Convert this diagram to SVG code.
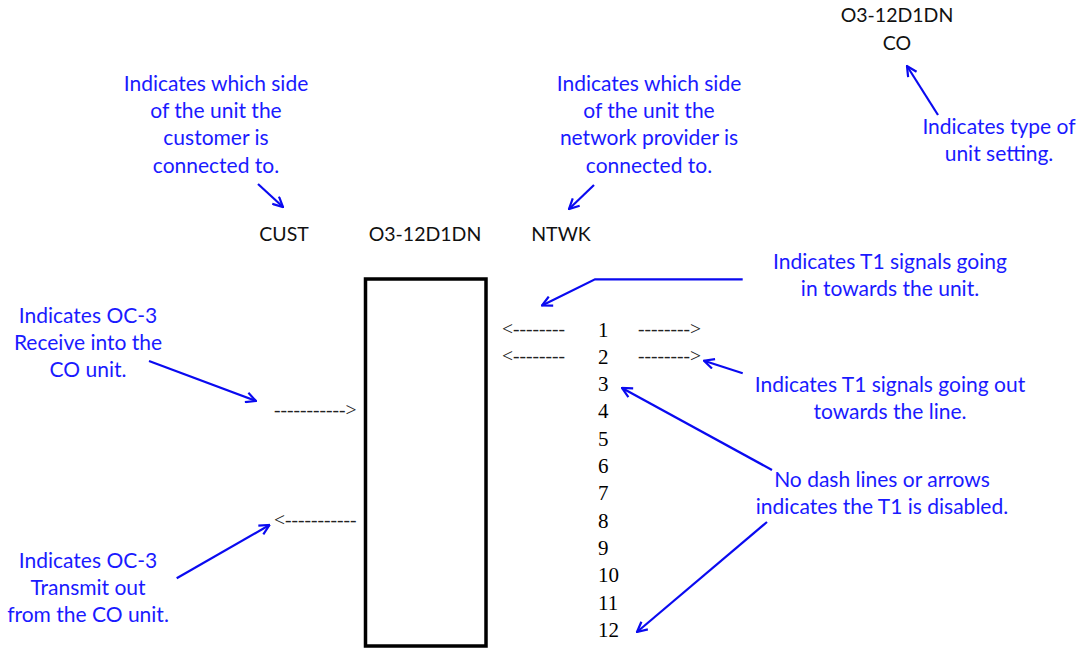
<svg xmlns="http://www.w3.org/2000/svg" width="1081" height="649" viewBox="0 0 1081 649">
<defs>
<style>
.b{font-family:Lato,"Open Sans","Liberation Sans",sans-serif;font-size:21px;fill:#1a1aff;text-anchor:middle}
.k{font-family:Lato,"Open Sans","Liberation Sans",sans-serif;font-size:19.5px;fill:#111;text-anchor:middle}
.n{font-family:"Liberation Serif","Times New Roman",serif;font-size:21px;fill:#000}
.d{font-family:"Liberation Serif","Times New Roman",serif;font-size:19.5px;fill:#222}
.a{stroke:#0a0af0;stroke-width:2.2;fill:none}
</style>
<marker id="ah" viewBox="0 0 12 12" refX="11" refY="6" markerWidth="12" markerHeight="12" markerUnits="userSpaceOnUse" orient="auto">
<path d="M1,1 L11,6 L1,11" fill="none" stroke="#0a0af0" stroke-width="2.2"/>
</marker>
</defs>
<rect width="1081" height="649" fill="#fff"/>

<g id="unit">
<rect x="365.5" y="279" width="120.5" height="367" fill="#fff" stroke="#000" stroke-width="3.5"/>
</g>

<g id="header">
<text class="k" x="284" y="241">CUST</text>
<text class="k" x="425" y="241">O3-12D1DN</text>
<text class="k" x="561" y="241">NTWK</text>
</g>

<g id="setting">
<text class="k" x="897" y="22">O3-12D1DN</text>
<text class="k" x="897" y="50">CO</text>
</g>

<g id="t1-numbers">
<text class="n" x="598" y="337">1</text>
<text class="n" x="598" y="364">2</text>
<text class="n" x="598" y="391">3</text>
<text class="n" x="598" y="418">4</text>
<text class="n" x="598" y="446">5</text>
<text class="n" x="598" y="473">6</text>
<text class="n" x="598" y="500">7</text>
<text class="n" x="598" y="528">8</text>
<text class="n" x="598" y="555">9</text>
<text class="n" x="598" y="582">10</text>
<text class="n" x="598" y="610">11</text>
<text class="n" x="598" y="637">12</text>
</g>

<g id="signal-dashes">
<text class="d" x="502" y="335">&lt;--------</text>
<text class="d" x="638" y="335">--------&gt;</text>
<text class="d" x="502" y="362">&lt;--------</text>
<text class="d" x="638" y="362">--------&gt;</text>
<text class="d" x="274" y="416">-----------&gt;</text>
<text class="d" x="274" y="526">&lt;-----------</text>
</g>

<g id="note-cust">
<text class="b" x="216" y="91">Indicates which side</text>
<text class="b" x="216" y="118">of the unit the</text>
<text class="b" x="216" y="145">customer is</text>
<text class="b" x="216" y="173">connected to.</text>
</g>

<g id="note-ntwk">
<text class="b" x="649" y="91">Indicates which side</text>
<text class="b" x="649" y="118">of the unit the</text>
<text class="b" x="649" y="145">network provider is</text>
<text class="b" x="649" y="173">connected to.</text>
</g>

<g id="note-type">
<text class="b" x="999" y="134">Indicates type of</text>
<text class="b" x="999" y="161">unit setting.</text>
</g>

<g id="note-in">
<text class="b" x="890" y="269">Indicates T1 signals going</text>
<text class="b" x="890" y="296">in towards the unit.</text>
</g>

<g id="note-out">
<text class="b" x="890" y="392">Indicates T1 signals going out</text>
<text class="b" x="890" y="419">towards the line.</text>
</g>

<g id="note-disabled">
<text class="b" x="882" y="487">No dash lines or arrows</text>
<text class="b" x="882" y="514">indicates the T1 is disabled.</text>
</g>

<g id="note-rx">
<text class="b" x="88" y="323">Indicates OC-3</text>
<text class="b" x="88" y="350">Receive into the</text>
<text class="b" x="88" y="377">CO unit.</text>
</g>

<g id="note-tx">
<text class="b" x="88" y="568">Indicates OC-3</text>
<text class="b" x="88" y="595">Transmit out</text>
<text class="b" x="88" y="622">from the CO unit.</text>
</g>

<g id="connectors">
<path class="a" d="M258,184 L283,207" marker-end="url(#ah)"/>
<path class="a" d="M594,185 L569,209" marker-end="url(#ah)"/>
<path class="a" d="M938,115 L907,66" marker-end="url(#ah)"/>
<path class="a" d="M742.7,279.3 L595,279.3 L542,305.5" marker-end="url(#ah)"/>
<path class="a" d="M742.7,373.3 L704,360.7" marker-end="url(#ah)"/>
<path class="a" d="M772,470 L622,388" marker-end="url(#ah)"/>
<path class="a" d="M767,522 L637,632" marker-end="url(#ah)"/>
<path class="a" d="M149,361 L256,401" marker-end="url(#ah)"/>
<path class="a" d="M176.7,578.3 L269.5,525" marker-end="url(#ah)"/>
</g>
</svg>
